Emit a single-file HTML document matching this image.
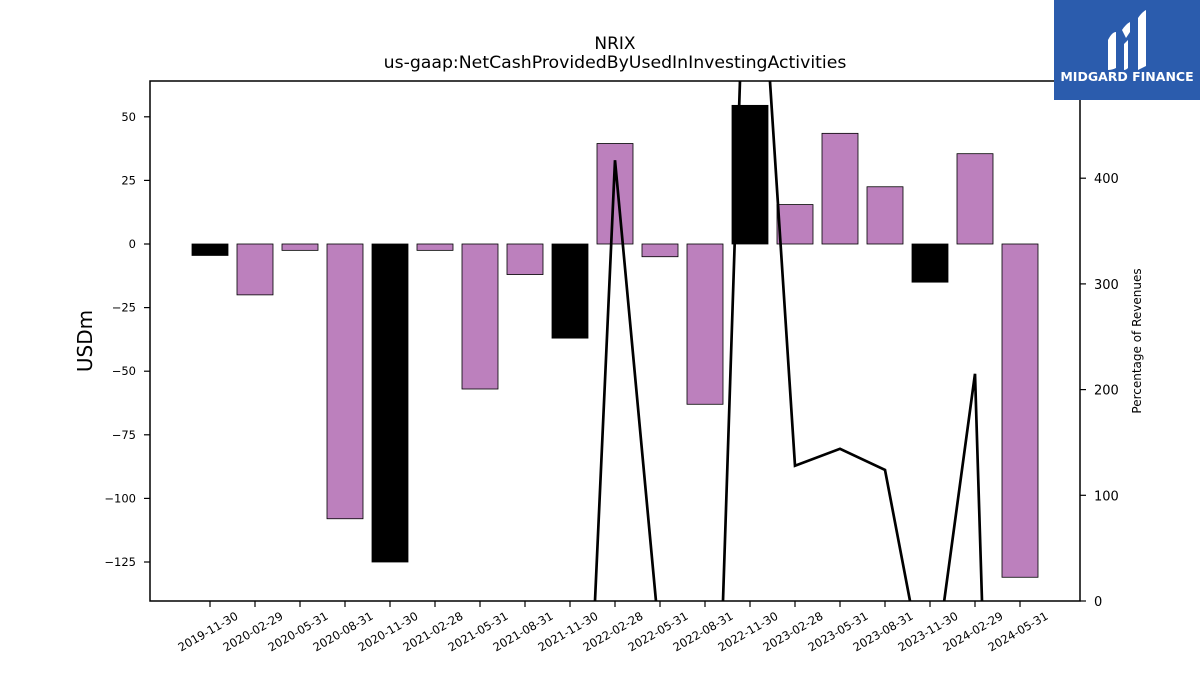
<!DOCTYPE html>
<html><head><meta charset="utf-8"><style>
html,body{margin:0;padding:0;background:#fff;overflow:hidden;width:1200px;height:675px}
svg{display:block}
</style></head><body>
<svg id="chart" width="1200" height="675" xmlns="http://www.w3.org/2000/svg" style="font-family:'DejaVu Sans','Liberation Sans',sans-serif">
<rect width="1200" height="675" fill="#fff"/>
<text x="615" y="49" text-anchor="middle" font-size="17">NRIX</text>
<text x="615" y="68" text-anchor="middle" font-size="17.3">us-gaap:NetCashProvidedByUsedInInvestingActivities</text>
<g id="bars"></g>
<g id="line"></g>
<rect x="150" y="81" width="930" height="520" fill="none" stroke="#000" stroke-width="1.5"/>
<g id="axes"></g>
<text transform="translate(92,341) rotate(-90)" text-anchor="middle" font-size="20">USDm</text>
<text transform="translate(1141,341) rotate(-90)" text-anchor="middle" font-size="12">Percentage of Revenues</text>
<g>
<rect x="1054" y="0" width="146" height="100" fill="#2b5cad"/>
<path d="M1108 40 q4 -8 8 -8 v36 q-4 2 -8 2 z M1122 30 q4 -6 8 -8 v10 l-4 6 z M1124 44 l4 -4 v28 q-2 2 -4 2z M1138 18 q4 -6 8 -8 v56 q-4 2 -8 4z" fill="#fff"/>
<text x="1127" y="81" text-anchor="middle" font-size="12.5" font-weight="bold" fill="#fff">MIDGARD FINANCE</text>
</g>
</svg>
<script>
const categories=["2019-11-30","2020-02-29","2020-05-31","2020-08-31","2020-11-30","2021-02-28","2021-05-31","2021-08-31","2021-11-30","2022-02-28","2022-05-31","2022-08-31","2022-11-30","2023-02-28","2023-05-31","2023-08-31","2023-11-30","2024-02-29","2024-05-31"];
const cashValues=[-4.5,-20,-2.5,-108,-125,-2.5,-57,-12,-37,39.5,-5,-63,54.5,15.5,43.5,22.5,-15,35.5,-131];
const isQ4=[1,0,0,0,1,0,0,0,1,0,0,0,1,0,0,0,1,0,0];
const pctValues=[null,null,null,null,null,null,null,null,-521,417,-41,-521,782,128,144,124,-99,215,-1167];
const leftTicks=[50,25,0,-25,-50,-75,-100,-125];
const rightTicks=[0,100,200,300,400];
const NS="http://www.w3.org/2000/svg";
const L=150,R=1080,T=81,B=601;
const x=i=>210+i*45;
const yL=v=>244-v*2.544;
const yR=v=>601-v*1.057;
function mk(tag,attrs,parent){const e=document.createElementNS(NS,tag);for(const k in attrs)e.setAttribute(k,attrs[k]);parent.appendChild(e);return e;}
const bars=document.getElementById('bars'),line=document.getElementById('line'),axes=document.getElementById('axes');
categories.forEach((c,i)=>{const v=cashValues[i];const y0=yL(0),y1=yL(v);
const r=mk('rect',{x:x(i)-18,y:Math.min(y0,y1),width:36,height:Math.abs(y1-y0),fill:isQ4[i]?'#000':'#bc80bd',stroke:'#000','stroke-width':0.8},bars);


const t=mk('line',{x1:x(i),x2:x(i),y1:B,y2:B+6,stroke:'#000','stroke-width':1.2},axes);


const lb=mk('text',{transform:`translate(${x(i)},${B+34}) rotate(-30)`,'text-anchor':'middle','font-size':11.5},axes);lb.textContent=c;


});
const defs=mk('defs',{},line);
const cp=mk('clipPath',{id:'clip'},defs);
mk('rect',{x:L,y:T,width:R-L,height:B-T},cp);
let d='';pctValues.forEach((v,i)=>{if(v===null)return;d+=(d?'L':'M')+x(i)+','+yR(v);});
const p=mk('path',{d:d,fill:'none',stroke:'#000','stroke-width':2.7,'clip-path':'url(#clip)'},line);


leftTicks.forEach(v=>{const t=mk('line',{x1:L-6,x2:L,y1:yL(v),y2:yL(v),stroke:'#000','stroke-width':1.2},axes);


const lb=mk('text',{x:L-14,y:yL(v)+4,'text-anchor':'end','font-size':11.5},axes);lb.textContent=v<0?'\u2212'+Math.abs(v):v;

});
rightTicks.forEach(v=>{const t=mk('line',{x1:R,x2:R+6,y1:yR(v),y2:yR(v),stroke:'#000','stroke-width':1.2},axes);


const lb=mk('text',{x:R+14,y:yR(v)+5,'font-size':13},axes);lb.textContent=v;

});
</script>
</body></html>
